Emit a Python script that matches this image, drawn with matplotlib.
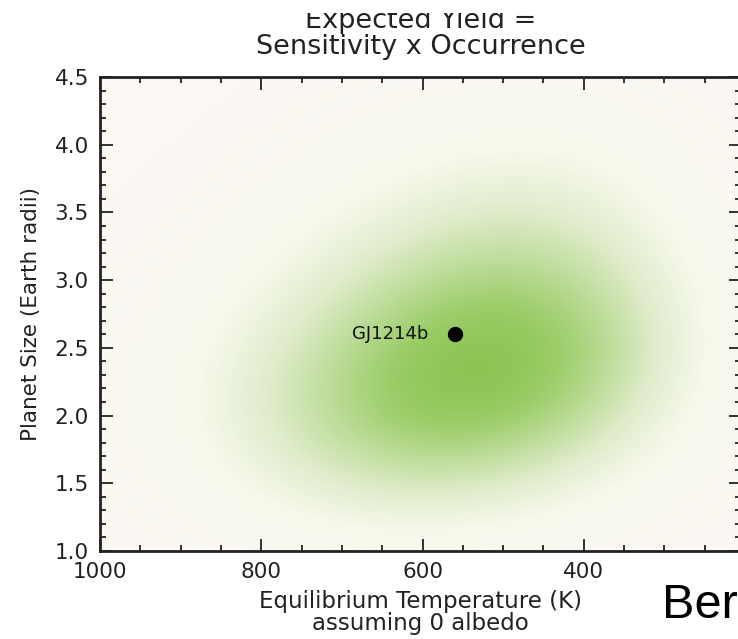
"""Expected yield map (sensitivity x occurrence) in the Teq / radius plane."""
import matplotlib
matplotlib.use("Agg")
import matplotlib.pyplot as plt
import numpy as np
from matplotlib.colors import LinearSegmentedColormap
from matplotlib.patches import Rectangle
from matplotlib.ticker import MultipleLocator, FormatStrFormatter

# ---- data ----------------------------------------------------------------
temps = [1000, 900, 800, 700, 600, 500, 400, 300, 200]        # K, grid columns
radii = [1.0, 1.5, 2.0, 2.5, 3.0, 3.5, 4.0, 4.5]              # Earth radii, grid rows
# relative expected yield, rows follow `radii`, columns follow `temps`
yield_r10 = [0.00, 0.01, 0.03, 0.05, 0.06, 0.04, 0.02, 0.00, 0.00]
yield_r15 = [0.01, 0.08, 0.24, 0.41, 0.48, 0.40, 0.24, 0.08, 0.01]
yield_r20 = [0.03, 0.15, 0.40, 0.70, 0.92, 0.90, 0.63, 0.26, 0.03]
yield_r25 = [0.02, 0.12, 0.34, 0.64, 0.92, 1.00, 0.80, 0.37, 0.05]
yield_r30 = [0.01, 0.06, 0.19, 0.40, 0.63, 0.74, 0.62, 0.29, 0.04]
yield_r35 = [0.00, 0.02, 0.08, 0.19, 0.33, 0.42, 0.36, 0.16, 0.02]
yield_r40 = [0.00, 0.00, 0.02, 0.07, 0.13, 0.18, 0.16, 0.07, 0.00]
yield_r45 = [0.00, 0.00, 0.00, 0.01, 0.02, 0.03, 0.03, 0.01, 0.00]

planet_name = "GJ1214b"
planet_teq = 560
planet_radius = 2.6

cmap = LinearSegmentedColormap.from_list(
    "yield", ["#fcf9f4", "#f5f8ea", "#e0eccb", "#bfdd9c", "#9ccd69", "#84c048"])

grid = np.array([yield_r10, yield_r15, yield_r20, yield_r25,
                 yield_r30, yield_r35, yield_r40, yield_r45])

W, H = 738, 639
fig = plt.figure(figsize=(W / 100, H / 100), dpi=100)
ax = fig.add_axes([100 / W, 1 - 551 / H, 641 / W, 474 / H])

dt = (temps[0] - temps[1]) / 2
dr = (radii[1] - radii[0]) / 2
ax.imshow(grid, origin="lower", cmap=cmap, vmin=0, vmax=1,
          interpolation="bicubic", aspect="auto",
          extent=[temps[0] + dt, temps[-1] - dt, radii[0] - dr, radii[-1] + dr])

ax.plot([planet_teq], [planet_radius], "o", color="black", ms=10)
ax.annotate(planet_name, (planet_teq, planet_radius), xytext=(-19, 0),
            textcoords="offset points", ha="right", va="center", fontsize=13,
            color="#111111")

ax.set_xlim(1000, 205)
ax.set_ylim(1.0, 4.5)
ax.xaxis.set_major_locator(MultipleLocator(200))
ax.xaxis.set_minor_locator(MultipleLocator(50))
ax.yaxis.set_major_locator(MultipleLocator(0.5))
ax.yaxis.set_minor_locator(MultipleLocator(0.1))
ax.yaxis.set_major_formatter(FormatStrFormatter("%.1f"))
ax.tick_params(which="both", direction="in", top=True, right=True,
               color="#222222", labelcolor="#222222", labelsize=15.5, pad=8)
ax.tick_params(which="major", length=9, width=1.3)
ax.tick_params(which="minor", length=4, width=1.3)
for s in ax.spines.values():
    s.set_linewidth(2)
    s.set_color("#222222")

ax.set_ylabel("Planet Size (Earth radii)", fontsize=15.5, labelpad=10,
              color="#222222")
ax.set_xlabel("Equilibrium Temperature (K)\nassuming 0 albedo", fontsize=16.5,
              labelpad=6, linespacing=0.92, color="#222222")

cx = (100 + 741) / 2 / W
fig.text(cx, 1 - 34 / H, "Expected Yield =\nSensitivity x Occurrence",
         ha="center", va="center", fontsize=19.5, linespacing=0.95,
         color="#222222")
# the top of the first title line is hidden in the reference
fig.add_artist(Rectangle((0, 1 - 13 / H), 1, 13 / H, transform=fig.transFigure,
                         facecolor="white", edgecolor="none", zorder=10))

fig.text(662 / W, 1 - 618 / H, "Ber", family="Liberation Sans", fontsize=35,
         ha="left", va="baseline")

fig.savefig("out.png", dpi=100)
